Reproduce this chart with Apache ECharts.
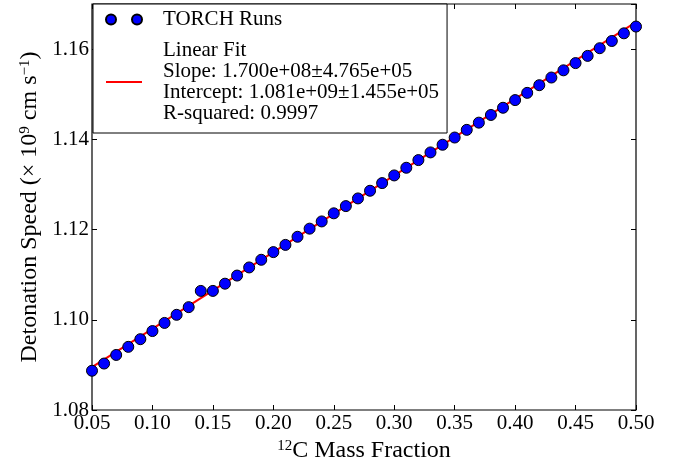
<!DOCTYPE html>
<html>
<head>
<meta charset="utf-8">
<script src="https://cdn.jsdelivr.net/npm/echarts@6/dist/echarts.min.js"></script>
<style>
  html, body { margin: 0; padding: 0; background: #fff; }
  #chart { width: 689px; height: 468px; }
</style>
</head>
<body>
<div id="chart"></div>
<script>
// TORCH runs: 12C mass fraction vs detonation speed (x 1e9 cm/s)
const massFrac = [0.05, 0.06, 0.07, 0.08, 0.09, 0.10, 0.11, 0.12, 0.13, 0.14,
  0.15, 0.16, 0.17, 0.18, 0.19, 0.20, 0.21, 0.22, 0.23, 0.24,
  0.25, 0.26, 0.27, 0.28, 0.29, 0.30, 0.31, 0.32, 0.33, 0.34,
  0.35, 0.36, 0.37, 0.38, 0.39, 0.40, 0.41, 0.42, 0.43, 0.44,
  0.45, 0.46, 0.47, 0.48, 0.49, 0.50];
const speed = [1.0887, 1.0903, 1.0922, 1.0940, 1.0957, 1.0975, 1.0993, 1.1011, 1.1028, 1.1064,
  1.1064, 1.1080, 1.1098, 1.1116, 1.1133, 1.1150, 1.1166, 1.1184, 1.1202, 1.1218,
  1.1236, 1.1252, 1.1269, 1.1286, 1.1303, 1.1320, 1.1337, 1.1354, 1.1371, 1.1388,
  1.1404, 1.1421, 1.1437, 1.1454, 1.1470, 1.1487, 1.1503, 1.1520, 1.1537, 1.1553,
  1.1569, 1.1585, 1.1602, 1.1618, 1.1635, 1.1650];

// linear fit end points
const fitX = [0.05, 0.50];
const fitY = [1.0895, 1.1660];

const fitLabel = ["Linear Fit", "Slope: 1.700e+08\u00b14.765e+05",
  "Intercept: 1.081e+09\u00b11.455e+05", "R-squared: 0.9997"];

const font = "Liberation Serif";

let myChart = echarts.init(document.getElementById("chart"));

const tickStyle = {
  show: true,
  inside: true,
  length: 5,
  lineStyle: { color: "#000", width: 1 }
};

myChart.setOption({
  animation: false,
  grid: {
    left: 92,
    right: 53,
    top: 4,
    bottom: 58,
    show: true,
    borderColor: "#000",
    borderWidth: 1.2,
    backgroundColor: "#fff"
  },
  legend: {
    orient: "vertical",
    left: 93,
    top: 4,
    padding: [5, 8, 9, 12],
    itemGap: 10,
    itemWidth: 36,
    itemHeight: 10,
    symbolKeepAspect: true,
    backgroundColor: "#fff",
    borderColor: "#000",
    borderWidth: 1,
    borderRadius: 0,
    data: [
      {
        name: "TORCH Runs",
        icon: "path://M0,5a5,5 0 1,0 10,0a5,5 0 1,0 -10,0M26,5a5,5 0 1,0 10,0a5,5 0 1,0 -10,0"
      },
      {
        name: "Linear Fit",
        icon: "path://M0,0L36,0L36,2L0,2Z"
      }
    ],
    formatter: function (name) {
      return name === "Linear Fit" ? fitLabel.join("\n") : name;
    },
    textStyle: {
      fontFamily: font,
      fontSize: 21,
      lineHeight: 21,
      color: "#000",
      padding: [0, 0, 0, 16]
    }
  },
  xAxis: [
    {
      type: "value",
      min: 0.05,
      max: 0.5,
      interval: 0.05,
      name: "{sup|12}C Mass Fraction",
      nameLocation: "middle",
      nameGap: 25,
      nameTextStyle: {
        fontFamily: font,
        fontSize: 24,
        color: "#000",
        rich: {
          sup: { fontFamily: font, fontSize: 15, verticalAlign: "top", color: "#000" }
        }
      },
      axisLine: { show: false },
      axisTick: tickStyle,
      splitLine: { show: false },
      axisLabel: {
        margin: 3,
        fontFamily: font,
        fontSize: 21,
        color: "#000",
        formatter: v => v.toFixed(2)
      }
    },
    {
      type: "value",
      position: "top",
      min: 0.05,
      max: 0.5,
      interval: 0.05,
      axisLine: { show: false },
      axisTick: tickStyle,
      splitLine: { show: false },
      axisLabel: { show: false }
    }
  ],
  yAxis: [
    {
      type: "value",
      min: 1.08,
      max: 1.17,
      interval: 0.02,
      name: "Detonation Speed (\u00d7 10{sup|9} cm s{sup|\u22121})",
      nameLocation: "middle",
      nameGap: 48,
      nameTextStyle: {
        fontFamily: font,
        fontSize: 24,
        color: "#000",
        rich: {
          sup: { fontFamily: font, fontSize: 15, verticalAlign: "top", color: "#000" }
        }
      },
      axisLine: { show: false },
      axisTick: tickStyle,
      splitLine: { show: false },
      axisLabel: {
        margin: 3,
        showMaxLabel: false,
        fontFamily: font,
        fontSize: 21,
        color: "#000",
        formatter: v => v.toFixed(2)
      }
    },
    {
      type: "value",
      position: "right",
      min: 1.08,
      max: 1.17,
      interval: 0.02,
      axisLine: { show: false },
      axisTick: tickStyle,
      splitLine: { show: false },
      axisLabel: { show: false }
    }
  ],
  series: [
    {
      name: "Linear Fit",
      type: "line",
      data: fitX.map((x, i) => [x, fitY[i]]),
      symbol: "none",
      lineStyle: { color: "#ff0000", width: 2 },
      itemStyle: { color: "#ff0000" },
      z: 2
    },
    {
      name: "TORCH Runs",
      type: "scatter",
      data: massFrac.map((x, i) => [x, speed[i]]),
      symbolSize: 11,
      itemStyle: { color: "#0000ff", borderColor: "#000", borderWidth: 1, opacity: 1 },
      z: 3
    }
  ]
});
</script>
</body>
</html>
